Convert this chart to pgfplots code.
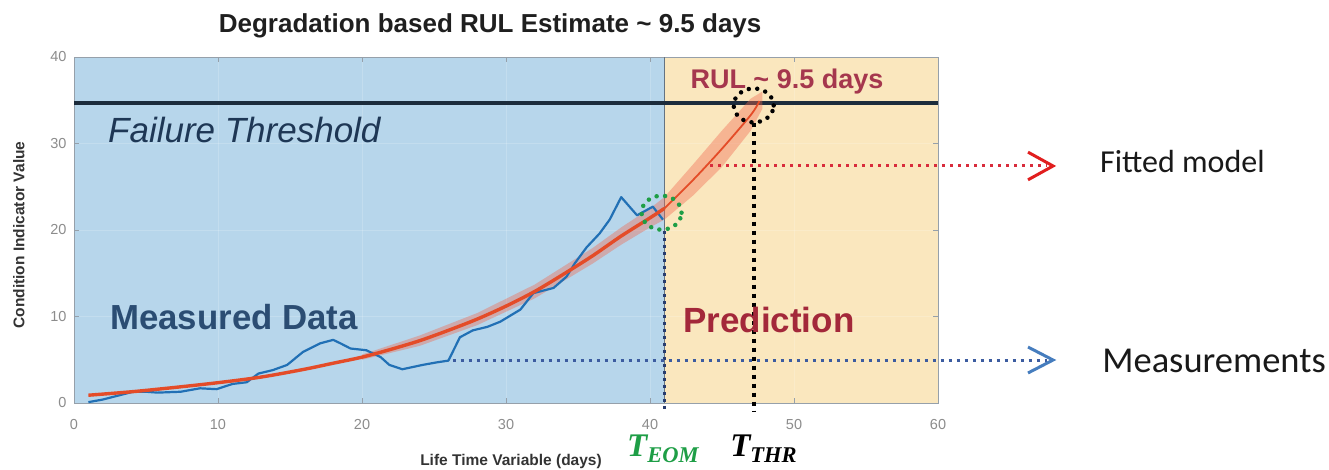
\documentclass[border=0pt]{standalone}
\usepackage{pgfplots}
\pgfplotsset{compat=1.18}
\usepackage{fontspec}
\setmainfont{Liberation Sans}
\newfontfamily\calfont{Carlito}
\newfontfamily\tfont{Liberation Serif}
\definecolor{bluebg}{RGB}{183,214,235}
\definecolor{yellowbg}{RGB}{250,231,190}
\definecolor{thrcol}{RGB}{28,44,60}
\definecolor{measblue}{RGB}{33,112,181}
\definecolor{fitred}{RGB}{228,76,40}
\definecolor{bandcol}{RGB}{240,105,80}
\definecolor{tickgray}{RGB}{140,140,140}
\definecolor{axisgray}{RGB}{150,160,170}
\definecolor{boundgray}{RGB}{100,115,130}
\definecolor{ftcol}{RGB}{30,55,85}
\definecolor{mdcol}{RGB}{43,77,115}
\definecolor{predcol}{RGB}{163,40,58}
\definecolor{rulcol}{RGB}{165,55,78}
\definecolor{eomgreen}{RGB}{30,158,70}
\definecolor{navydot}{RGB}{40,60,110}
\definecolor{reddot}{RGB}{216,44,60}
\definecolor{bluedot}{RGB}{60,92,160}
\definecolor{arrred}{RGB}{225,30,30}
\definecolor{arrblue}{RGB}{70,125,190}
\begin{document}
\begin{tikzpicture}
\begin{axis}[
  at={(0,0)}, anchor=south west,
  scale only axis, width=864pt, height=346pt,
  xmin=0, xmax=60, ymin=0, ymax=40,
  xtick={0,10,...,60}, ytick={0,10,...,40},
  clip=false,
  set layers,
  axis line style={draw=axisgray, line width=0.8pt},
  tick style={draw=axisgray, line width=0.6pt},
  major tick length=5pt,
  tick align=inside,
  xmajorgrids, ymajorgrids,
  grid style={draw=white, opacity=0.18, line width=0.6pt},
  ticklabel style={font=\fontsize{14.5}{14.5}\selectfont, text=tickgray},
  /pgf/number format/assume math mode=true,
  xticklabel style={anchor=center, yshift=-22pt},
  yticklabel style={anchor=east, xshift=-4pt},
  xlabel={Life Time Variable (days)},
  ylabel={Condition Indicator Value},
  label style={font=\bfseries\fontsize{15.5}{16}\selectfont, text=black!80},
  xlabel style={at={(axis description cs:0.5058,-0.1676)}, anchor=center},
  ylabel style={at={(axis description cs:-0.0637,0.4855)}, anchor=center},
]
% background regions
\addplot[draw=none, fill=bluebg, on layer=axis background] coordinates {(0,0) (41,0) (41,40) (0,40)} -- cycle;
\addplot[draw=none, fill=yellowbg, on layer=axis background] coordinates {(41,0) (60,0) (60,40) (41,40)} -- cycle;
\addplot[draw=boundgray, line width=1.4pt] coordinates {(41,0) (41,40)};
% threshold
\addplot[draw=thrcol, line width=3.6pt] coordinates {(0,34.7) (60,34.7)};
% confidence band
\addplot[draw=none, fill=bandcol, fill opacity=0.4] coordinates {
 (20,5.6) (24,7.8) (28,10.4) (32,13.7) (36,17.9) (38,20.3) (40,22.5) (41,23.8) (43,27.6) (45,31.5) (47,35.2) (47.8,36.0)
 (47.8,34.0) (47,31.5) (45,27.3) (43,24.0) (41,21.2) (40,20.3) (38,18.3) (36,16.1) (32,12.1) (28,9.0) (24,6.6) (20,5.0)} -- cycle;
% measured data
\addplot[draw=measblue, line width=2.2pt, line join=round] coordinates {
 (1,0.1) (2,0.4) (2.7,0.7) (4.1,1.3) (5,1.3) (5.8,1.2) (7.4,1.3) (8.75,1.7) (9.9,1.6) (11,2.2) (12,2.4)
 (12.8,3.4) (13.8,3.8) (14.8,4.4) (15.9,5.9) (17.1,6.9) (18,7.3) (18.5,6.9) (19.2,6.3) (20.3,6.1) (21.3,5.3)
 (21.9,4.4) (22.8,3.9) (24.2,4.4) (25.2,4.7) (26,4.9) (26.8,7.6) (27.7,8.4) (28.7,8.8) (29.6,9.4) (31,10.8)
 (31.9,12.7) (33.3,13.3) (34.2,14.6) (34.8,16.2) (35.6,18.0) (36.5,19.6) (37.2,21.2) (38,23.8) (39.1,21.7)
 (40.2,22.7) (40.9,21.2)};
% fitted model
\addplot[draw=fitred, line width=3.4pt, smooth] coordinates {
 (1,0.9) (4,1.3) (7,1.8) (10,2.35) (13,3.0) (16,3.9) (18,4.6) (20,5.3) (22,6.2) (24,7.2) (26,8.4) (28,9.7)
 (30,11.2) (32,12.9) (34,14.9) (36,17.0) (38,19.3) (40,21.4) (41,22.5)};
\addplot[draw=fitred, line width=1.8pt, smooth] coordinates {
 (41,22.5) (43,25.8) (45,29.4) (47,33.3) (47.6,34.9)};
% circles
\draw[eomgreen, line width=4.5pt, line cap=round, dash pattern=on 0pt off 8.5pt] (axis cs:40.8,22.0) ellipse [x radius=20pt, y radius=17pt];
\draw[black, line width=4.5pt, line cap=round, dash pattern=on 0pt off 8.5pt] (axis cs:47.2,34.4) ellipse [x radius=20pt, y radius=17pt];
% vertical dotted lines
\draw[navydot, line width=3pt, dash pattern=on 3pt off 4pt] (axis cs:41,19.9) -- (axis cs:41,-1.0);
\draw[black, line width=4pt, dash pattern=on 4pt off 5pt] (axis cs:47.2,32.4) -- (axis cs:47.2,-1.0);
% annotation arrows
\draw[reddot, line width=3pt, dash pattern=on 3pt off 5pt] (axis cs:44.2,27.4) -- (axis cs:67.6,27.4);
\draw[arrred, line width=3pt, line join=miter] (axis cs:66.25,29.0) -- (axis cs:67.99,27.4) -- (axis cs:66.25,25.8);
\draw[bluedot, line width=3pt, dash pattern=on 3pt off 5pt] (axis cs:26.3,4.97) -- (axis cs:67.6,4.97);
\draw[arrblue, line width=3pt, line join=miter] (axis cs:66.25,6.47) -- (axis cs:67.99,4.97) -- (axis cs:66.25,3.47);
% texts
\node[anchor=base, inner sep=0, text=black!88] at (axis cs:28.9,42.8) {\bfseries\fontsize{26}{28}\selectfont Degradation based RUL Estimate \textasciitilde{} 9.5 days};
\node[anchor=base west, inner sep=0, text=ftcol] at (axis cs:2.36,30.06) {\itshape\fontsize{35}{38}\selectfont Failure Threshold};
\node[anchor=base west, inner sep=0, text=mdcol] at (axis cs:2.5,8.55) {\bfseries\fontsize{34.8}{38}\selectfont Measured Data};
\node[anchor=base west, inner sep=0, text=predcol] at (axis cs:42.3,8.2) {\bfseries\fontsize{35}{38}\selectfont Prediction};
\node[anchor=base west, inner sep=0, text=rulcol] at (axis cs:42.8,36.4) {\bfseries\fontsize{27}{29}\selectfont RUL \textasciitilde{} 9.5 days};
\node[anchor=base west, inner sep=0, text=black!90] at (axis cs:71.25,26.7) {\calfont\fontsize{32}{36}\selectfont Fitted model};
\node[anchor=base west, inner sep=0, text=black!90] at (axis cs:71.4,3.58) {\calfont\fontsize{36.5}{40}\selectfont Measurements};
\node[anchor=base west, inner sep=0, text=eomgreen] at (axis cs:38.4,-6.24) {\tfont\bfseries\itshape\fontsize{33}{33}\selectfont T\raisebox{-6pt}{\fontsize{22.5}{22}\selectfont EOM}};
\node[anchor=base west, inner sep=0, text=black] at (axis cs:45.56,-6.24) {\tfont\bfseries\itshape\fontsize{33}{33}\selectfont T\raisebox{-6pt}{\fontsize{22.5}{22}\selectfont THR}};
\end{axis}
\pgfresetboundingbox
\path[use as bounding box] (-74pt,-66pt) rectangle (1255pt,403pt);
\end{tikzpicture}
\end{document}
